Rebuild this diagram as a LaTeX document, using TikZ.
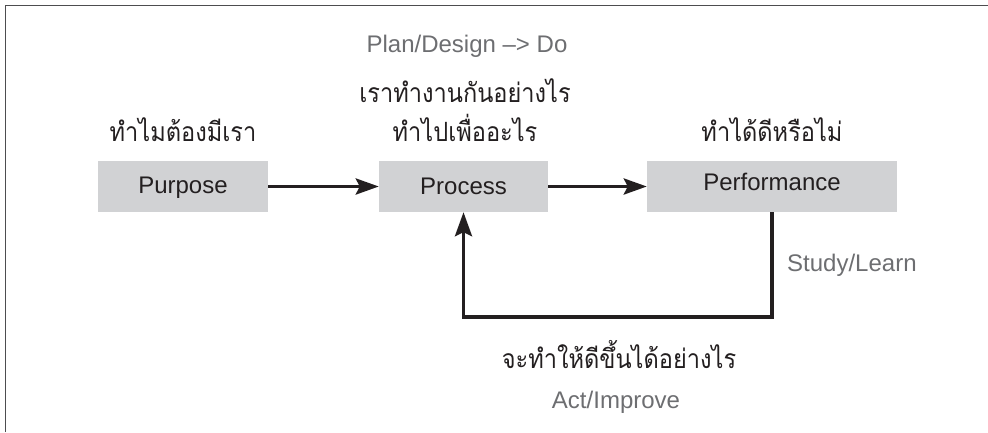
\documentclass[tikz,border=0pt]{standalone}
\usepackage{fontspec}
\setmainfont{Liberation Sans}
\newfontfamily\thaifont[Script=Thai]{Loma}
\usetikzlibrary{arrows.meta}
\definecolor{boxgray}{HTML}{D1D2D4}
\definecolor{inkdark}{HTML}{231F20}
\definecolor{txtgray}{HTML}{6D6E71}
\definecolor{framegray}{HTML}{4D4D4F}
\newcommand{\thaitxt}[1]{\scalebox{0.89}[1]{#1}}
\tikzset{
  box/.style={fill=boxgray, draw=none, minimum height=51pt, inner sep=0pt, text=inkdark, font=\fontsize{24}{28}\selectfont},
  boxtxt/.style={anchor=base, inner sep=0pt, text=inkdark, font=\fontsize{24}{28}\selectfont},
  thai/.style={anchor=base, inner sep=0pt, text=inkdark, font=\thaifont\fontsize{26.5}{30}\selectfont},
  eng/.style={anchor=base, inner sep=0pt, text=txtgray, font=\fontsize{24}{28}\selectfont},
  arr/.style={draw=inkdark, line width=3.8pt, -{Stealth[length=23pt,width=16pt,inset=4pt]}},
  fb/.style={draw=inkdark, line width=3.5pt, line join=miter, -{Stealth[length=24pt,width=17pt,inset=4pt]}}
}
\begin{document}
\begin{tikzpicture}[x=1pt,y=-1pt]
\useasboundingbox (0,0) rectangle (988,432);
\draw[framegray, line width=1.6pt] (5.5,432) -- (5.5,5.5) -- (988,5.5);
% boxes
\node[box, minimum width=170pt] (purp) at (183,186.5) {};
\node[box, minimum width=169pt] (proc) at (463.5,186.5) {};
\node[box, minimum width=250pt] (perf) at (772,186.5) {};
\node[boxtxt] (purpt) at (183,193) {Purpose};
\node[boxtxt] (proct) at (463.5,194) {Process};
\node[boxtxt] (perft) at (772,190) {Performance};
% arrows
\draw[arr] (purp.east) -- (proc.west);
\draw[arr] (proc.east) -- (perf.west);
\draw[fb] (perf.south) -- ++(0,105) -| (proc.south);
% labels
\node[eng] (pd) at (467,52) {Plan/Design --> Do};
\node[thai] (t1) at (183,141) {\thaitxt{ทำไมต้องมีเรา}};
\node[thai] (t2a) at (465,102) {\thaitxt{เราทำงานกันอย่างไร}};
\node[thai] (t2b) at (465,141) {\thaitxt{ทำไปเพื่ออะไร}};
\node[thai] (t3) at (772,141) {\thaitxt{ทำได้ดีหรือไม่}};
\node[eng, anchor=base west] (sl) at (787,271) {Study/Learn};
\node[thai] (t4) at (619,368) {\thaitxt{จะทำให้ดีขึ้นได้อย่างไร}};
\node[eng] (ai) at (616,408) {Act/Improve};
\end{tikzpicture}
\end{document}
